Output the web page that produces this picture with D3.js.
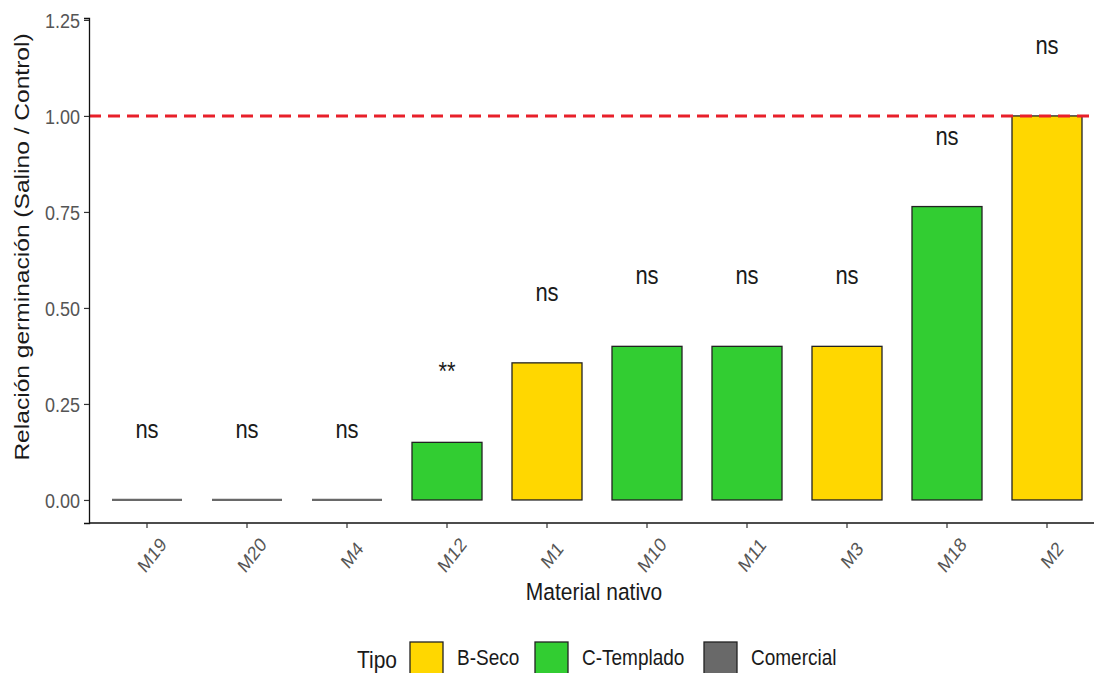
<!DOCTYPE html>
<html>
<head>
<meta charset="utf-8">
<script src="https://cdn.jsdelivr.net/npm/d3@7"></script>
<style>
  html, body { margin: 0; padding: 0; background: #fff; }
  svg { display: block; font-family: "Liberation Sans", Arial, sans-serif; }
</style>
</head>
<body>
<svg id="chart" width="1094" height="673"></svg>
<script>
// Germination ratio (saline / control) per native material
const materials = ["M19", "M20", "M4", "M12", "M1", "M10", "M11", "M3", "M18", "M2"];
const ratios    = [0, 0, 0, 0.15, 0.357, 0.4, 0.4, 0.4, 0.764, 1.0];
const tipos     = ["Comercial", "Comercial", "Comercial", "C-Templado", "B-Seco",
                   "C-Templado", "C-Templado", "B-Seco", "C-Templado", "B-Seco"];
const signif    = ["ns", "ns", "ns", "**", "ns", "ns", "ns", "ns", "ns", "ns"];
const yTicks    = [0, 0.25, 0.5, 0.75, 1.0, 1.25];
const tipoLevels = ["B-Seco", "C-Templado", "Comercial"];
const tipoColors = ["#FFD700", "#32CD32", "#696969"];
const refLine = 1.0;
const labelOffset = 0.185;

// Text glyphs are drawn slightly taller than wide
const SY = 1.17;
const FONT = "Liberation Sans, Arial, sans-serif";

const svg = d3.select("#chart");

const x = d3.scaleBand()
  .domain(materials)
  .range([87, 1107])
  .paddingInner(0.3)
  .paddingOuter(0.25);

const y = d3.scaleLinear()
  .domain([-0.06, 1.255])
  .range([523, 18]);

const color = d3.scaleOrdinal().domain(tipoLevels).range(tipoColors);

const data = materials.map((m, i) => ({ m, v: ratios[i], t: tipos[i], s: signif[i] }));

// Bars
svg.append("g").selectAll("rect")
  .data(data.filter(d => d.v > 0))
  .join("rect")
  .attr("x", d => x(d.m))
  .attr("width", x.bandwidth())
  .attr("y", d => y(d.v))
  .attr("height", d => y(0) - y(d.v))
  .attr("fill", d => color(d.t))
  .attr("stroke", "#222")
  .attr("stroke-width", 1.3);

// Zero-height bars collapse to a flat line
svg.append("g").selectAll("line")
  .data(data.filter(d => d.v === 0))
  .join("line")
  .attr("x1", d => x(d.m))
  .attr("x2", d => x(d.m) + x.bandwidth())
  .attr("y1", d => y(d.v))
  .attr("y2", d => y(d.v))
  .attr("stroke", d => color(d.t))
  .attr("stroke-width", 2.2);

// Reference line at ratio = 1
svg.append("line")
  .attr("x1", 89).attr("x2", 1094)
  .attr("y1", y(refLine)).attr("y2", y(refLine))
  .attr("stroke", "#E8202A")
  .attr("stroke-width", 3)
  .attr("stroke-dasharray", "12,7");

// Significance labels
svg.append("g").selectAll("text")
  .data(data)
  .join("text")
  .attr("transform", d => `translate(${x(d.m) + x.bandwidth() / 2},${y(d.v + labelOffset)}) scale(1,${SY})`)
  .attr("dominant-baseline", "central")
  .attr("text-anchor", "middle")
  .attr("font-size", 22)
  .attr("fill", "#1a1a1a")
  .text(d => d.s);

// Y axis
const yAxis = svg.append("g")
  .attr("transform", "translate(89,0)")
  .call(d3.axisLeft(y).tickValues(yTicks).tickFormat(d3.format(".2f")).tickSizeOuter(0).tickSize(5));
yAxis.select(".domain").attr("stroke", "#111").attr("stroke-width", 1.3);
yAxis.selectAll(".tick line").attr("stroke", "#333").attr("stroke-width", 1.2);
yAxis.selectAll(".tick text")
  .attr("x", null).attr("dy", null)
  .attr("transform", `translate(-9,0) scale(1,${SY})`)
  .attr("dominant-baseline", "central")
  .attr("text-anchor", "end")
  .attr("fill", "#555")
  .attr("font-size", 18)
  .attr("font-family", FONT);

// X axis
const xAxis = svg.append("g")
  .attr("transform", `translate(0,${y(-0.06)})`)
  .call(d3.axisBottom(x).tickSize(5).tickSizeOuter(0));
xAxis.select(".domain").attr("d", "M89,0H1094").attr("stroke", "#111").attr("stroke-width", 1.3);
xAxis.selectAll(".tick line").attr("stroke", "#333").attr("stroke-width", 1.2);
xAxis.selectAll(".tick text")
  .attr("fill", "#555")
  .attr("font-size", 17)
  .attr("font-family", FONT)
  .attr("text-anchor", "middle")
  .attr("dy", null)
  .attr("y", null)
  .attr("transform", `translate(5,32) scale(1,${SY}) rotate(-48)`)
  .attr("dominant-baseline", "central");

// Axis titles
svg.append("text")
  .attr("transform", `translate(594,591) scale(1,${SY})`)
  .attr("dominant-baseline", "central")
  .attr("text-anchor", "middle")
  .attr("font-size", 21)
  .attr("fill", "#1a1a1a")
  .text("Material nativo");

svg.append("text")
  .attr("transform", `translate(22,247) scale(1,${SY}) rotate(-90)`)
  .attr("dominant-baseline", "central")
  .attr("text-anchor", "middle")
  .attr("font-size", 21)
  .attr("fill", "#1a1a1a")
  .text("Relación germinación (Salino / Control)");

// Legend
const legend = svg.append("g");
legend.append("text")
  .attr("transform", `translate(397,659) scale(1,${SY})`)
  .attr("dominant-baseline", "central")
  .attr("text-anchor", "end")
  .attr("font-size", 21)
  .attr("fill", "#1a1a1a")
  .text("Tipo");
const legX = [410, 535, 704];
tipoLevels.forEach((t, i) => {
  legend.append("rect")
    .attr("x", legX[i]).attr("y", 642)
    .attr("width", 33).attr("height", 36)
    .attr("fill", color(t))
    .attr("stroke", "#222")
    .attr("stroke-width", 1.3);
  legend.append("text")
    .attr("transform", `translate(${legX[i] + 47},657) scale(1,${SY})`)
    .attr("dominant-baseline", "central")
    .attr("font-size", 19)
    .attr("fill", "#1a1a1a")
    .text(t);
});
</script>
</body>
</html>
